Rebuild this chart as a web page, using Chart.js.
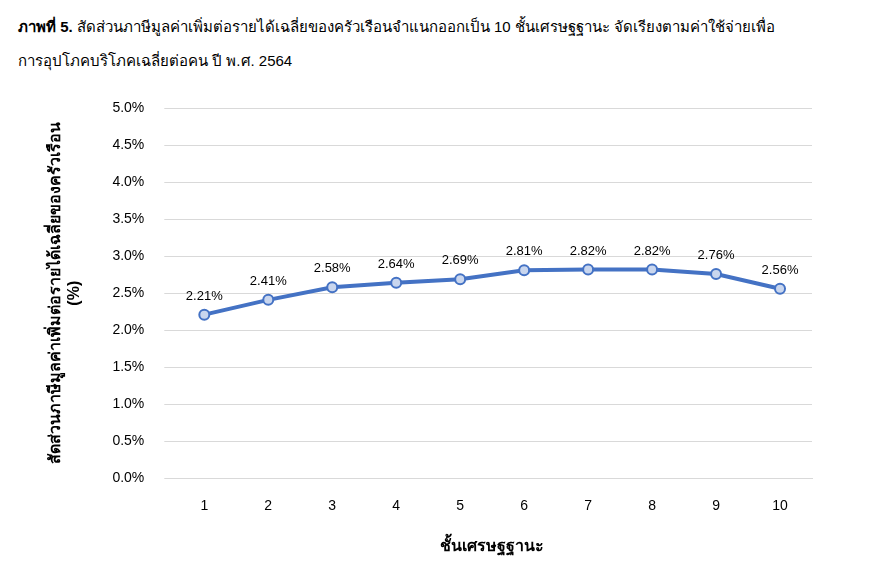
<!DOCTYPE html>
<html>
<head>
<meta charset="utf-8">
<script src="https://cdn.jsdelivr.net/npm/chart.js@4"></script>
<style>
    body { margin: 0; background: #fff; font-family: Arial, "Liberation Sans", sans-serif; }
    #title { position: absolute; left: 18px; top: 10px; width: 860px; font-size: 15px; line-height: 34px; color: #000; }
    #wrap { position: absolute; left: 0; top: 80px; width: 885px; height: 488px; }
</style>
</head>
<body>
<div id="title"><b>ภาพที่ 5.</b> สัดส่วนภาษีมูลค่าเพิ่มต่อรายได้เฉลี่ยของครัวเรือนจำแนกออกเป็น 10 ชั้นเศรษฐฐานะ จัดเรียงตามค่าใช้จ่ายเพื่อ<br>การอุปโภคบริโภคเฉลี่ยต่อคน ปี พ.ศ. 2564</div>
<div id="wrap"><canvas id="myChart"></canvas></div>
<script>
const categories = ['1', '2', '3', '4', '5', '6', '7', '8', '9', '10'];
const vatShare = [2.21, 2.41, 2.58, 2.64, 2.69, 2.81, 2.82, 2.82, 2.76, 2.56]; // percent

// draw the value above each point
const pointLabels = {
    id: 'pointLabels',
    afterDatasetsDraw(chart) {
        const ctx = chart.ctx;
        const meta = chart.getDatasetMeta(0);
        ctx.save();
        ctx.font = '13px Arial, "Liberation Sans", sans-serif';
        ctx.fillStyle = '#000';
        ctx.textAlign = 'center';
        ctx.textBaseline = 'bottom';
        meta.data.forEach((pt, i) => {
            ctx.fillText(vatShare[i].toFixed(2) + '%', pt.x, pt.y - 12);
        });
        ctx.restore();
    },
};

new Chart(document.getElementById('myChart'), {
    type: 'line',
    data: {
        labels: categories,
        datasets: [{
            data: vatShare,
            borderColor: '#4472C4',
            borderWidth: 4,
            pointRadius: 5,
            pointBackgroundColor: '#C9D6EE',
            pointBorderColor: '#4472C4',
            pointBorderWidth: 2,
            tension: 0,
        }],
    },
    options: {
        responsive: true,
        maintainAspectRatio: false,
        animation: false,
        layout: { padding: { left: 42, right: 73, top: 14, bottom: 8 } },
        plugins: { legend: { display: false }, tooltip: { enabled: false } },
        scales: {
            x: {
                offset: true,
                grid: { display: false },
                border: { color: '#d9d9d9' },
                ticks: { color: '#000', font: { size: 14 }, padding: 12 },
                title: {
                    display: true,
                    text: 'ชั้นเศรษฐฐานะ',
                    color: '#000',
                    font: { size: 16, weight: 'bold' },
                    padding: { top: 10 },
                },
            },
            y: {
                min: 0,
                max: 5,
                grid: { color: '#d9d9d9' },
                border: { display: false },
                ticks: {
                    stepSize: 0.5,
                    color: '#000',
                    font: { size: 14 },
                    padding: 20,
                    callback: (v) => v.toFixed(1) + '%',
                },
                title: {
                    display: true,
                    text: ['สัดส่วนภาษีมูลค่าเพิ่มต่อรายได้เฉลี่ยของครัวเรือน', '(%)'],
                    color: '#000',
                    font: { size: 16, weight: 'bold' },
                    padding: { bottom: 8 },
                },
            },
        },
    },
    plugins: [pointLabels],
});
</script>
</body>
</html>
